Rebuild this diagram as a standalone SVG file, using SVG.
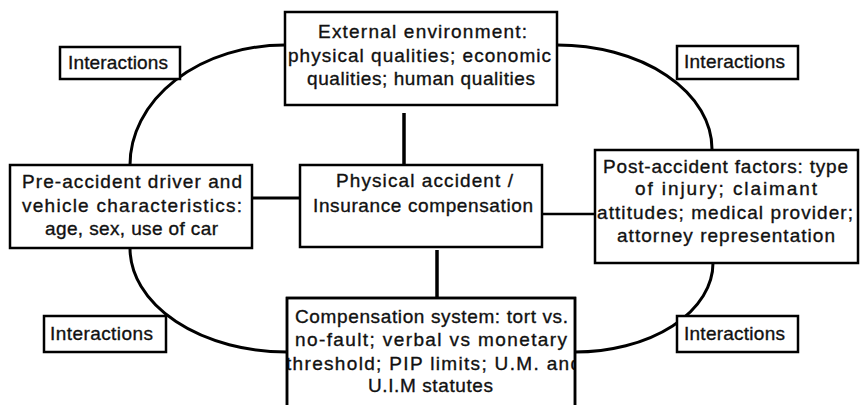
<svg xmlns="http://www.w3.org/2000/svg" width="861" height="405" viewBox="0 0 861 405">
<style>
.box{fill:#fff;stroke:#000;stroke-width:2.5}
.outline{fill:none;stroke:#000;stroke-width:2.5}
.t{font-family:"Liberation Sans",Arial,sans-serif;font-size:19px;fill:#111;stroke:#111;stroke-width:0.35}
.arc{fill:none;stroke:#000;stroke-width:3}
.ln{fill:none;stroke:#000;stroke-width:3}
</style>
<defs>
<clipPath id="compClip"><rect x="287" y="298" width="288" height="120"/></clipPath>
</defs>
<rect width="861" height="405" fill="#fff"/>
<g id="connectors">
<path class="arc" d="M285,45 A155,120 0 0 0 130,165"/>
<path class="arc" d="M557,45 A155,104 0 0 1 712,149"/>
<path class="arc" d="M130,248 A157,104 0 0 0 287,352"/>
<path class="arc" d="M575,352 A138,89 0 0 0 713,263"/>
<line class="ln" x1="404" y1="113" x2="404" y2="165" style="stroke-width:3.5"/>
<line class="ln" x1="437" y1="250" x2="437" y2="298" style="stroke-width:3.5"/>
<line class="ln" x1="252" y1="198" x2="300" y2="198"/>
<line class="ln" x1="542" y1="214" x2="595" y2="214" style="stroke-width:2.5"/>
</g>
<g id="external">
<rect class="box" x="285" y="12" width="272" height="93"/>
<text class="t" x="318" y="38" textLength="209" lengthAdjust="spacing">External environment:</text>
<text class="t" x="288" y="62" textLength="263" lengthAdjust="spacing">physical qualities; economic</text>
<text class="t" x="307" y="85" textLength="228" lengthAdjust="spacing">qualities; human qualities</text>
</g>
<g id="preaccident">
<rect class="box" x="10" y="165" width="242" height="83"/>
<text class="t" x="22" y="188" textLength="220" lengthAdjust="spacing">Pre-accident driver and</text>
<text class="t" x="22" y="212" textLength="220" lengthAdjust="spacing">vehicle characteristics:</text>
<text class="t" x="45" y="235" textLength="173" lengthAdjust="spacing">age, sex, use of car</text>
</g>
<g id="physical">
<rect class="box" x="300" y="165" width="242" height="82"/>
<text class="t" x="336" y="187" textLength="177" lengthAdjust="spacing">Physical accident /</text>
<text class="t" x="313" y="212" textLength="220" lengthAdjust="spacing">Insurance compensation</text>
</g>
<g id="postaccident">
<rect class="box" x="595" y="150" width="263" height="113"/>
<text class="t" x="603" y="173" textLength="245" lengthAdjust="spacing">Post-accident factors: type</text>
<text class="t" x="635" y="195" textLength="182" lengthAdjust="spacing">of injury; claimant</text>
<text class="t" x="597" y="219" textLength="256" lengthAdjust="spacing">attitudes; medical provider;</text>
<text class="t" x="617" y="242" textLength="218" lengthAdjust="spacing">attorney representation</text>
</g>
<g id="compensation">
<rect class="box" x="287" y="298" width="288" height="120"/>
<g clip-path="url(#compClip)">
<text class="t" x="295" y="323" textLength="273" lengthAdjust="spacing">Compensation system: tort vs.</text>
<text class="t" x="295" y="346" textLength="272" lengthAdjust="spacing">no-fault; verbal vs monetary</text>
<text class="t" x="286" y="370" textLength="295" lengthAdjust="spacing">threshold; PIP limits; U.M. and</text>
<text class="t" x="368" y="392" textLength="125" lengthAdjust="spacing">U.I.M statutes</text>
</g>
<rect class="outline" x="287" y="298" width="288" height="120"/>
</g>
<g id="interactions-tl">
<rect class="box" x="60" y="47" width="120" height="32"/>
<text class="t" x="68" y="69" textLength="100" lengthAdjust="spacing">Interactions</text>
</g>
<g id="interactions-tr">
<rect class="box" x="677" y="46" width="121" height="33"/>
<text class="t" x="684" y="68" textLength="101" lengthAdjust="spacing">Interactions</text>
</g>
<g id="interactions-bl">
<rect class="box" x="44" y="316" width="122" height="36"/>
<text class="t" x="50" y="340" textLength="103" lengthAdjust="spacing">Interactions</text>
</g>
<g id="interactions-br">
<rect class="box" x="677" y="316" width="121" height="36"/>
<text class="t" x="684" y="340" textLength="101" lengthAdjust="spacing">Interactions</text>
</g>
</svg>
